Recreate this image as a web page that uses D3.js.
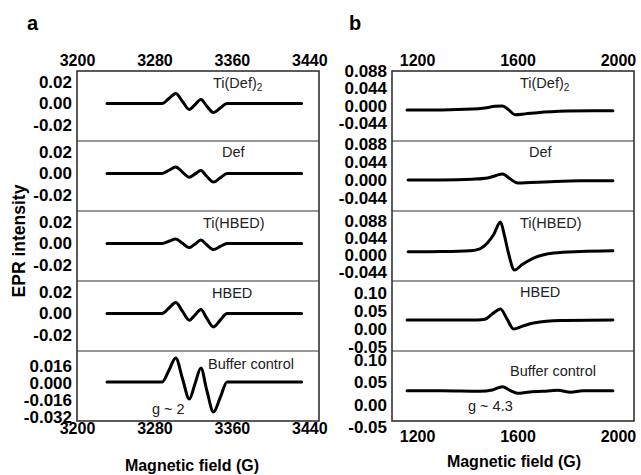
<!DOCTYPE html>
<html>
<head>
<meta charset="utf-8">
<script src="https://cdn.jsdelivr.net/npm/d3@7"></script>
<style>
  html, body { margin: 0; padding: 0; background: #fff; }
  svg { display: block; font-family: "Liberation Sans", Arial, sans-serif; }
</style>
</head>
<body>
<svg id="chart" width="641" height="475"></svg>
<script>
// ---------------- DATA ----------------
const sampleNames = ["Ti(Def)2", "Def", "Ti(HBED)", "HBED", "Buffer control"];

// Panel a (g ~ 2 region)
const fieldTicksA = [3200, 3280, 3360, 3440];
const fieldA = [3231, 3288, 3295, 3302, 3309, 3316, 3322, 3328, 3334, 3341, 3348, 3355, 3432];
const aTiDef2 = [0, 0, 0.0047, 0.0093, 0.0019, -0.0056, -0.0010, 0.0037, -0.0024, -0.0084, -0.0042, 0, 0];
const aDef    = [0, 0, 0.0030, 0.0060, 0.0013, -0.0035, -0.0004, 0.0028, -0.0026, -0.0080, -0.0040, 0, 0];
const aTiHBED = [0, 0, 0.0021, 0.0042, 0.0002, -0.0039, -0.0004, 0.0032, -0.0012, -0.0056, -0.0028, 0, 0];
const aHBED   = [0, 0, 0.0051, 0.0102, 0.0020, -0.0062, -0.0013, 0.0037, -0.0044, -0.0125, -0.0062, 0, 0];
const aBuffer = [0.001, 0.001, 0.012, 0.0235, 0.004, -0.0151, -0.0005, 0.0141, -0.0066, -0.0273, -0.0136, 0.001, 0.001];

const yTicksA = [0.02, 0, -0.02];
const yTickLabelsA = ["0.02", "0.00", "-0.02"];
const yTicksA5 = [0.016, 0, -0.016, -0.032];
const yTickLabelsA5 = ["0.016", "0.000", "-0.016", "-0.032"];
const yDomainsA = [[-0.0349, 0.0302], [-0.0349, 0.0302], [-0.0349, 0.0302], [-0.0349, 0.0302], [-0.0358, 0.0301]];

// Panel b (g ~ 4.3 region)
const fieldTicksB = [1200, 1600, 2000];
const fieldB1 = [1160, 1300, 1420, 1470, 1510, 1540, 1565, 1590, 1630, 1680, 1800, 1900, 1980];
const bTiDef2 = [-0.010, -0.010, -0.008, -0.005, -0.001, 0.000, -0.010, -0.022, -0.020, -0.017, -0.013, -0.012, -0.012];
const fieldB2 = [1164, 1300, 1420, 1480, 1515, 1540, 1570, 1600, 1650, 1732, 1850, 1980];
const bDef    = [0, 0, 0.002, 0.005, 0.011, 0.0147, 0.003, -0.0073, -0.006, -0.004, -0.002, -0.0017];
const fieldB3 = [1164, 1300, 1412, 1450, 1480, 1505, 1532, 1548, 1562, 1588, 1620, 1664, 1744, 1852, 1980];
const bTiHBED = [0.0085, 0.009, 0.011, 0.016, 0.031, 0.053, 0.0855, 0.050, 0.010, -0.039, -0.024, -0.008, 0.005, 0.009, 0.011];
const fieldB4 = [1160, 1300, 1440, 1470, 1500, 1532, 1558, 1584, 1620, 1664, 1772, 1980];
const bHBED   = [0.025, 0.025, 0.025, 0.027, 0.042, 0.0556, 0.028, 0.000, 0.008, 0.0167, 0.0236, 0.025];
const fieldB5 = [1160, 1300, 1450, 1500, 1540, 1570, 1600, 1640, 1700, 1760, 1812, 1860, 1920, 1980];
const bBuffer = [0.031, 0.031, 0.030, 0.033, 0.040, 0.032, 0.0255, 0.028, 0.030, 0.032, 0.028, 0.031, 0.031, 0.031];

const yTicksB = [0.088, 0.044, 0, -0.044];
const yTickLabelsB = ["0.088", "0.044", "0.000", "-0.044"];
const yTicksB45 = [0.10, 0.05, 0, -0.05];
const yTickLabelsB45 = ["0.10", "0.05", "0.00", "-0.05"];
const yDomainsB = [[-0.088, 0.0875], [-0.0758, 0.0954], [-0.0674, 0.114], [-0.061, 0.133], [-0.0365, 0.120]];

// ---------------- LAYOUT ----------------
const svg = d3.select("#chart");
const bounds = [71, 141, 211, 281, 351, 421];
const font = "'Liberation Sans', Arial, sans-serif";

const xA = d3.scaleLinear().domain([3200, 3450]).range([77, 319]);
const xB = d3.scaleLinear().domain([1100, 2064]).range([392, 634]);

const panelsA = [
  { field: fieldA, vals: aTiDef2, ticks: yTicksA, labels: yTickLabelsA },
  { field: fieldA, vals: aDef, ticks: yTicksA, labels: yTickLabelsA },
  { field: fieldA, vals: aTiHBED, ticks: yTicksA, labels: yTickLabelsA },
  { field: fieldA, vals: aHBED, ticks: yTicksA, labels: yTickLabelsA },
  { field: fieldA, vals: aBuffer, ticks: yTicksA5, labels: yTickLabelsA5 }
];
const panelsB = [
  { field: fieldB1, vals: bTiDef2, ticks: yTicksB, labels: yTickLabelsB },
  { field: fieldB2, vals: bDef, ticks: yTicksB, labels: yTickLabelsB },
  { field: fieldB3, vals: bTiHBED, ticks: yTicksB, labels: yTickLabelsB },
  { field: fieldB4, vals: bHBED, ticks: yTicksB45, labels: yTickLabelsB45 },
  { field: fieldB5, vals: bBuffer, ticks: yTicksB45, labels: yTickLabelsB45 }
];

function drawColumn(x, panels, domains, labelPos) {
  const [x0, x1] = x.range();
  panels.forEach((p, i) => {
    const y = d3.scaleLinear().domain(domains[i]).range([bounds[i + 1], bounds[i]]);
    const ax = svg.append("g")
      .attr("transform", `translate(${x0},0)`)
      .call(d3.axisLeft(y).tickValues(p.ticks).tickSize(0).tickPadding(5)
        .tickFormat((d, k) => p.labels[k]));
    ax.select(".domain").remove();
    ax.selectAll("text").attr("font-family", font).attr("font-size", 17)
      .attr("font-weight", "bold").attr("fill", "#000");

    const line = d3.line().x(d => x(d[0])).y(d => y(d[1])).curve(d3.curveMonotoneX);
    svg.append("path")
      .datum(p.field.map((f, k) => [f, p.vals[k]]))
      .attr("d", line)
      .attr("fill", "none").attr("stroke", "#000").attr("stroke-width", 3)
      .attr("stroke-linejoin", "round").attr("stroke-linecap", "round");

    if (i > 0) {
      svg.append("line").attr("x1", x0).attr("x2", x1)
        .attr("y1", bounds[i]).attr("y2", bounds[i])
        .attr("stroke", "#333").attr("stroke-width", 1.2);
    }
    const lp = labelPos[i];
    const t = svg.append("text").attr("x", lp[0]).attr("y", lp[1])
      .attr("font-family", font).attr("font-size", 14.5).attr("fill", "#222");
    const name = sampleNames[i];
    if (name.endsWith("2") && name.startsWith("Ti(Def)")) {
      t.append("tspan").text("Ti(Def)");
      t.append("tspan").text("2").attr("font-size", 10).attr("dy", 3);
    } else {
      t.text(name);
    }
  });
  svg.append("rect").attr("x", x0).attr("y", bounds[0])
    .attr("width", x1 - x0).attr("height", bounds[5] - bounds[0])
    .attr("fill", "none").attr("stroke", "#333").attr("stroke-width", 1.6);
}

drawColumn(xA, panelsA, yDomainsA, [[213, 88], [222, 157], [203, 228], [212, 298], [208, 369]]);
drawColumn(xB, panelsB, yDomainsB, [[520, 88], [529, 157], [520, 228], [520, 297], [510, 376]]);

function fieldAxes(x, ticks, bottomPad) {
  const top = svg.append("g").attr("transform", `translate(0,${bounds[0]})`)
    .call(d3.axisTop(x).tickValues(ticks).tickSize(0).tickPadding(5).tickFormat(d3.format("d")));
  const bot = svg.append("g").attr("transform", `translate(0,${bounds[5]})`)
    .call(d3.axisBottom(x).tickValues(ticks).tickSize(0).tickPadding(bottomPad).tickFormat(d3.format("d")));
  [top, bot].forEach(g => {
    g.select(".domain").remove();
    g.selectAll("text").attr("font-family", font).attr("font-size", 16)
      .attr("font-weight", "bold").attr("fill", "#000");
  });
}
fieldAxes(xA, fieldTicksA, 2);
fieldAxes(xB, fieldTicksB, 10);

// annotations
svg.append("text").attr("x", 152).attr("y", 414).attr("font-family", font)
  .attr("font-size", 14.5).attr("fill", "#222").text("g ~ 2");
svg.append("text").attr("x", 468).attr("y", 411).attr("font-family", font)
  .attr("font-size", 14.5).attr("fill", "#222").text("g ~ 4.3");

// panel letters
svg.append("text").attr("x", 27).attr("y", 30).attr("font-family", font)
  .attr("font-size", 20).attr("font-weight", "bold").text("a");
svg.append("text").attr("x", 349).attr("y", 30).attr("font-family", font)
  .attr("font-size", 20).attr("font-weight", "bold").text("b");

// axis titles
svg.append("text").attr("transform", "translate(25,241) rotate(-90)")
  .attr("text-anchor", "middle").attr("font-family", font)
  .attr("font-size", 17.5).attr("font-weight", "bold").text("EPR intensity");
svg.append("text").attr("x", 192).attr("y", 471).attr("text-anchor", "middle")
  .attr("font-family", font).attr("font-size", 16).attr("font-weight", "bold")
  .text("Magnetic field (G)");
svg.append("text").attr("x", 514).attr("y", 467).attr("text-anchor", "middle")
  .attr("font-family", font).attr("font-size", 16).attr("font-weight", "bold")
  .text("Magnetic field (G)");
</script>
</body>
</html>
